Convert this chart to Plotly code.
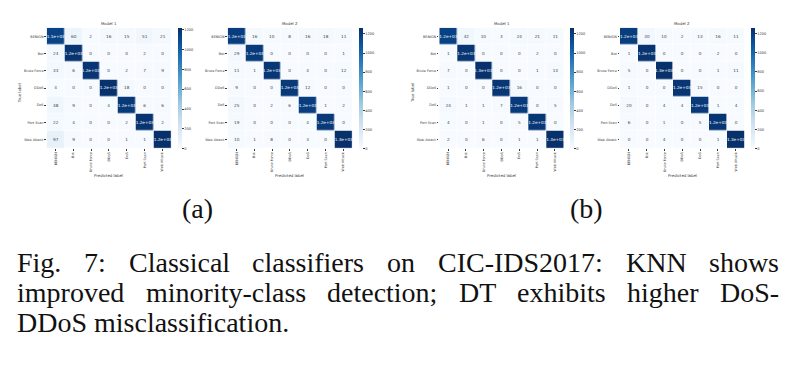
import plotly.graph_objects as go
import plotly.express as px

W, H = 791, 366

classes = ["BENIGN", "Bot", "Brute Force", "DDoS", "DoS", "Port Scan", "Web Attack"]

# (a) Model 1
a_m1 = [
    [1130, 60, 2, 16, 15, 51, 21],
    [24, 1200, 0, 0, 0, 2, 0],
    [33, 6, 1190, 0, 2, 7, 9],
    [4, 0, 0, 1210, 18, 0, 0],
    [48, 9, 0, 4, 1180, 6, 6],
    [22, 4, 0, 0, 2, 1200, 2],
    [97, 9, 0, 0, 1, 1, 1220],
]
# (a) Model 2
a_m2 = [
    [1200, 16, 10, 8, 16, 18, 11],
    [29, 1210, 0, 0, 0, 0, 1],
    [11, 1, 1230, 0, 4, 0, 12],
    [9, 0, 0, 1220, 12, 0, 0],
    [25, 0, 2, 6, 1200, 1, 2],
    [19, 0, 0, 0, 4, 1220, 0],
    [10, 1, 8, 0, 3, 0, 1265],
]
# (b) Model 1
b_m1 = [
    [1180, 42, 10, 3, 24, 21, 11],
    [1, 1240, 0, 0, 0, 2, 0],
    [7, 0, 1260, 0, 0, 1, 13],
    [1, 0, 0, 1230, 16, 0, 0],
    [24, 1, 1, 7, 1210, 0, 5],
    [4, 0, 1, 0, 5, 1230, 0],
    [2, 0, 6, 0, 1, 1, 1265],
]
# (b) Model 2
b_m2 = [
    [1200, 30, 10, 2, 13, 16, 11],
    [1, 1240, 0, 0, 0, 2, 0],
    [5, 0, 1260, 0, 0, 1, 11],
    [1, 0, 0, 1230, 15, 0, 0],
    [20, 0, 4, 4, 1210, 1, 4],
    [6, 0, 1, 0, 5, 1230, 0],
    [0, 0, 4, 0, 0, 1, 1260],
]

panel_titles = ["Model 1", "Model 2", "Model 1", "Model 2"]
matrices = [a_m1, a_m2, b_m1, b_m2]
cbar_ticks = [0, 200, 400, 600, 800, 1000, 1200]

caption_lines = [
    "Fig. 7: Classical classifiers on CIC-IDS2017: KNN shows",
    "improved minority-class detection; DT exhibits higher DoS-",
    "DDoS misclassification.",
]
sub_labels = ["(a)", "(b)"]

# ---------------- layout helpers ----------------
def px_x(x):
    return x / W

def px_y(y):
    return 1 - y / H

heat_left = [46.7, 227.7, 439.3, 620.0]
heat_w = 124.5
heat_top, heat_bot = 27.7, 148.3
cbar_left = [177.5, 358.8, 570.0, 751.0]

blues = px.colors.sequential.Blues
cs = [[i / (len(blues) - 1), c] for i, c in enumerate(blues)]

fig = go.Figure()
annotations = []
font_fam = "DejaVu Sans"
tick_col = "#3a3a3a"
tick_fs = 3.4
cell_fs = 4.2
lab_fs = 3.9

for i, (mat, ttl) in enumerate(zip(matrices, panel_titles)):
    k = "" if i == 0 else str(i + 1)
    text = [[f"{v:.2g}" for v in row] for row in mat]
    zmax = max(max(r) for r in mat)
    fig.add_trace(go.Heatmap(
        z=mat, x=classes, y=classes, text=text, texttemplate="%{text}",
        textfont=dict(size=cell_fs, family=font_fam),
        colorscale=cs, zmin=0, zmax=zmax, xgap=0.6, ygap=0.6,
        xaxis="x" + k, yaxis="y" + k, hoverinfo="skip",
        colorbar=dict(
            thickness=4, thicknessmode="pixels",
            len=heat_bot - heat_top, lenmode="pixels",
            x=px_x(cbar_left[i]), xanchor="left", xref="paper",
            y=px_y(heat_top), yanchor="top", yref="paper",
            outlinewidth=0, tickvals=cbar_ticks, ticks="outside",
            ticklen=2, tickwidth=0.5, tickcolor=tick_col,
            tickfont=dict(size=3.6, family=font_fam, color=tick_col),
            xpad=0, ypad=0,
        ),
    ))
    x0 = heat_left[i]
    fig.layout["xaxis" + k] = dict(
        domain=[px_x(x0), px_x(x0 + heat_w)], anchor="y" + k,
        tickangle=-90, tickfont=dict(size=tick_fs, family=font_fam, color=tick_col),
        ticks="outside", ticklen=1.5, tickwidth=0.4, tickcolor=tick_col,
        showgrid=False, zeroline=False, showline=False,
    )
    fig.layout["yaxis" + k] = dict(
        domain=[px_y(heat_bot), px_y(heat_top)], anchor="x" + k,
        autorange="reversed",
        tickfont=dict(size=tick_fs, family=font_fam, color=tick_col),
        ticks="outside", ticklen=1.5, tickwidth=0.4, tickcolor=tick_col,
        showgrid=False, zeroline=False, showline=False,
    )
    cx = x0 + heat_w / 2
    annotations.append(dict(text=ttl, x=px_x(cx), y=px_y(24), xref="paper", yref="paper",
                            showarrow=False, font=dict(size=lab_fs, family=font_fam, color="#333"),
                            xanchor="center", yanchor="middle"))
    annotations.append(dict(text="Predicted label", x=px_x(cx), y=px_y(175), xref="paper", yref="paper",
                            showarrow=False, font=dict(size=lab_fs, family=font_fam, color="#333"),
                            xanchor="center", yanchor="middle"))
    if i in (0, 2):
        annotations.append(dict(text="True label", x=px_x(x0 - 26.5), y=px_y(93), xref="paper", yref="paper",
                                showarrow=False, textangle=-90,
                                font=dict(size=lab_fs, family=font_fam, color="#333"),
                                xanchor="center", yanchor="middle"))

# sub-figure labels
for lab, x in zip(sub_labels, [197, 586]):
    annotations.append(dict(text=lab, x=px_x(x), y=px_y(208), xref="paper", yref="paper",
                            showarrow=False, font=dict(size=28, family="Liberation Serif", color="#111"),
                            xanchor="center", yanchor="middle"))

# justified caption (Times metrics, per 1000 em)
tw = {' ': 250, 'a': 444, 'b': 500, 'c': 444, 'd': 500, 'e': 444, 'f': 333, 'g': 500, 'h': 500,
      'i': 278, 'j': 278, 'k': 500, 'l': 278, 'm': 778, 'n': 500, 'o': 500, 'p': 500, 'q': 500,
      'r': 333, 's': 389, 't': 278, 'u': 500, 'v': 500, 'w': 722, 'x': 500, 'y': 500, 'z': 444,
      'A': 722, 'C': 667, 'D': 722, 'F': 556, 'I': 333, 'K': 722, 'N': 722, 'S': 556, 'T': 611,
      '.': 250, ':': 278, ';': 278, '-': 333}
cap_fs = 28
cap_left, cap_right = 15, 777
cap_y = [262, 292, 322]

def word_w(w):
    return sum(tw.get(ch, 500) for ch in w) / 1000 * cap_fs

for li, line in enumerate(caption_lines):
    words = line.split(" ")
    widths = [word_w(w) for w in words]
    justify = li < len(caption_lines) - 1
    if justify:
        gap = (cap_right - cap_left - sum(widths)) / (len(words) - 1)
    else:
        gap = 250 / 1000 * cap_fs
    x = cap_left
    for w, wd in zip(words, widths):
        annotations.append(dict(text=w, x=px_x(x), y=px_y(cap_y[li]), xref="paper", yref="paper",
                                showarrow=False, font=dict(size=cap_fs, family="Liberation Serif", color="#111"),
                                xanchor="left", yanchor="middle"))
        x += wd + gap

fig.update_layout(
    width=W, height=H, margin=dict(l=0, r=0, t=0, b=0),
    paper_bgcolor="white", plot_bgcolor="white",
    annotations=annotations, showlegend=False,
)
fig.write_html("out.html")
